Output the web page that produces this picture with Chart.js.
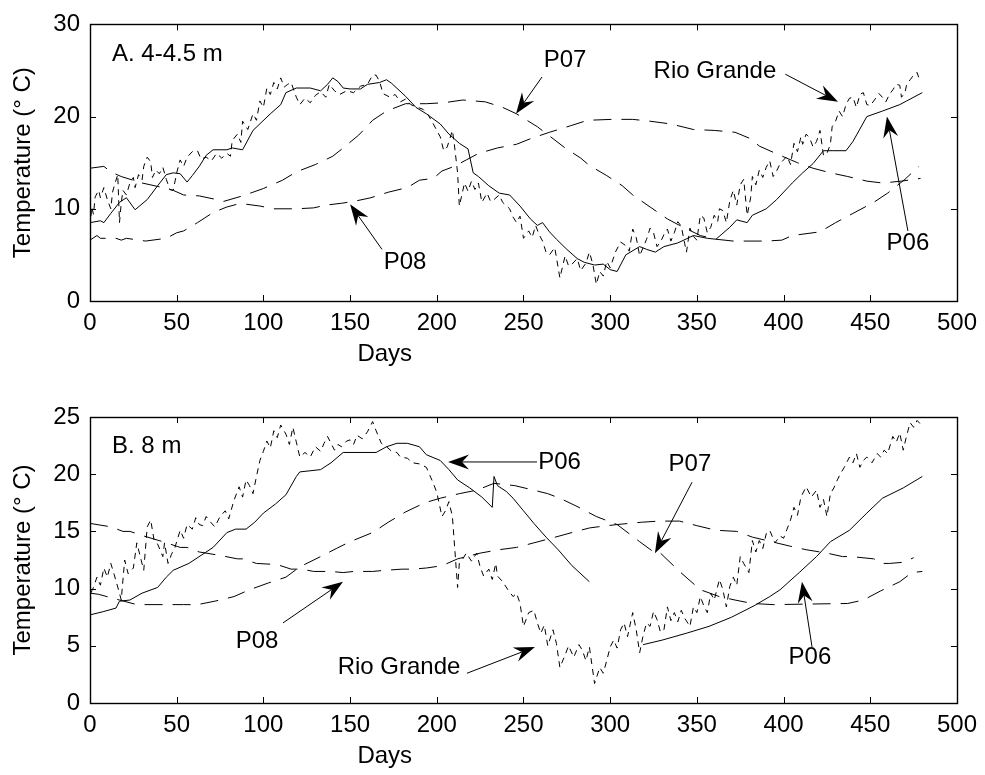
<!DOCTYPE html>
<html>
<head>
<meta charset="utf-8">
<script src="https://cdn.jsdelivr.net/npm/chart.js@4.4.1/dist/chart.umd.min.js"></script>
<style>
  html, body { margin: 0; padding: 0; background: #fff; }
  #wrap { position: relative; width: 985px; height: 775px; }
  canvas { position: absolute; left: 0; }
  #chartA { top: 0; }
  #chartB { top: 385px; }
</style>
</head>
<body>
<div id="wrap">
  <canvas id="chartA" width="985" height="385"></canvas>
  <canvas id="chartB" width="985" height="390"></canvas>
</div>
<script>
// ---------------------------------------------------
// Data, [day, temperature] pairs
// ---------------------------------------------------

// A. 4-4.5 m
var rioA = [[0,8.0],[1,10.2],[2,9.4],[3,11.3],[5,12.0],[6,11.2],[8,12.3],[10,11.0],[12,10.0],[13,11.8],
  [14,12.5],[16,13.7],[17,8.5],[18,10.6],[19,12.0],[21,11.5],[23,12.8],[25,13.4],[26,12.3],[28,13.7],
  [30,13.1],[31,14.6],[33,15.6],[35,15.1],[36,13.4],[38,14.2],[40,13.8],[42,14.5],[44,13.2],[46,12.1],
  [48,12.0],[50,13.9],[52,15.3],[54,14.6],[56,15.6],[59,16.2],[62,16.3],[64,15.4],[67,15.6],[70,15.2],
  [73,16.0],[76,15.5],[79,16.0],[81,15.7],[82,17.4],[85,18.1],[87,17.2],[88,19.5],[91,18.6],[94,20.3],
  [96,19.6],[98,21.7],[100,21.0],[102,23.1],[104,22.4],[106,23.7],[108,23.0],[110,24.2],[112,23.2],[114,23.5],
  [116,23.7],[119,22.1],[121,21.3],[124,22.0],[127,21.5],[130,22.3],[133,22.7],[136,22.1],[138,23.5],[141,22.8],
  [144,22.4],[148,22.8],[152,22.6],[156,23.3],[160,23.5],[163,24.5],[165,24.5],[167,23.8],[169,22.5],[173,22.1],
  [176,22.4],[179,21.6],[182,21.9],[185,21.3],[189,21.0],[192,20.8],[195,20.2],[198,19.2],[202,17.8],[204,16.3],
  [206,16.7],[209,18.5],[210,17.2],[212,13.9],[213,10.3],[216,12.8],[218,11.9],[220,13.0],[222,12.1],[224,12.8],
  [226,10.7],[229,11.7],[231,10.8],[233,11.0],[236,11.5],[238,10.7],[242,10.0],[244,9.1],[246,8.5],[248,9.2],
  [250,6.8],[253,7.6],[255,6.9],[257,8.2],[259,7.2],[261,6.5],[263,5.3],[265,5.0],[268,5.8],[271,2.5],
  [274,4.9],[276,3.8],[278,4.0],[281,4.6],[283,3.3],[286,4.1],[288,5.3],[290,4.0],[292,1.8],[294,3.2],
  [296,2.7],[298,4.3],[300,3.6],[303,5.3],[306,6.4],[309,6.0],[311,5.4],[313,7.8],[315,6.9],[317,4.9],
  [319,5.8],[321,6.7],[323,7.9],[325,7.4],[327,5.9],[329,6.4],[331,7.2],[333,7.8],[335,6.5],[337,7.4],
  [339,8.6],[341,8.1],[343,6.2],[344,5.3],[346,7.9],[348,7.0],[350,6.6],[352,9.3],[354,9.0],[356,7.4],
  [358,8.0],[360,9.3],[362,8.6],[363,10.0],[365,9.8],[367,8.5],[369,10.9],[371,12.0],[373,10.4],[375,12.6],
  [377,13.2],[379,9.3],[381,11.2],[382,13.5],[384,12.6],[386,14.2],[388,13.4],[390,14.5],[392,15.2],[394,13.5],
  [396,14.1],[398,14.9],[400,15.3],[402,15.7],[404,14.8],[406,17.1],[408,16.2],[410,17.8],[411,17.0],[413,18.1],
  [415,17.7],[417,16.7],[419,17.3],[421,18.5],[423,15.8],[425,16.0],[427,17.0],[428,18.9],[430,19.5],[432,20.6],
  [434,20.0],[436,21.3],[438,22.0],[440,22.1],[442,21.0],[444,22.4],[446,22.6],[448,21.3],[450,21.2],[452,21.7],
  [455,22.5],[457,22.1],[459,21.6],[461,22.4],[463,22.9],[465,23.5],[467,23.4],[468,22.1],[470,22.6],[471,23.5],
  [473,24.0],[475,24.5],[477,24.8],[478,24.2]];

var p06A = [[0,8.5],[6,8.7],[8,8.5],[12,9.5],[17,10.7],[21,11.2],[26,9.9],[33,11.0],[39,12.5],[44,13.7],
  [48,13.9],[52,13.8],[56,12.9],[59,13.6],[63,14.6],[67,15.8],[71,16.4],[79,16.4],[82,16.6],[88,16.4],
  [94,18.5],[104,20.3],[110,21.3],[113,22.6],[119,23.1],[127,23.1],[133,22.8],[137,23.5],[140,24.2],[143,23.8],
  [146,23.1],[150,23.0],[156,23.0],[160,23.5],[167,23.7],[171,24.0],[174,23.6],[182,22.2],[188,21.0],[194,20.3],
  [202,19.2],[207,18.1],[213,17.1],[218,16.5],[221,13.9],[224,13.5],[230,12.5],[236,11.7],[242,11.5],[248,10.3],
  [254,8.9],[258,8.2],[261,8.5],[265,7.5],[269,6.7],[275,5.6],[281,4.6],[285,4.2],[291,3.9],[296,4.0],
  [300,3.4],[304,3.2],[309,5.0],[317,5.9],[321,5.6],[326,5.3],[331,5.9],[339,6.3],[348,7.1],[356,6.8],
  [361,6.7],[369,8.0],[373,8.8],[379,8.5],[382,9.3],[390,10.0],[396,11.0],[405,12.8],[411,13.9],[417,14.9],
  [423,16.3],[428,16.3],[436,16.3],[440,17.3],[448,20.0],[457,20.6],[467,21.3],[471,21.7],[480,22.6]];

var p07A = [[0,14.4],[8,14.6],[12,14.0],[18,13.5],[30,12.8],[42,12.3],[48,12.0],[54,11.5],[63,11.4],[73,11.0],
  [77,10.8],[88,11.4],[100,12.2],[111,13.1],[119,14.0],[130,14.8],[140,15.7],[146,16.6],[155,18.0],[163,19.6],
  [171,20.6],[182,21.4],[194,21.4],[204,21.5],[215,21.8],[228,21.6],[238,21.0],[246,20.3],[258,18.9],[265,17.9],
  [274,16.6],[283,15.5],[288,14.7],[298,13.6],[307,12.5],[313,11.5],[323,10.2],[333,8.9],[340,8.2],[352,7.1],
  [361,6.7],[371,6.5],[390,6.5],[399,6.6],[405,7.1],[421,7.5],[430,8.5],[440,9.5],[452,10.7],[460,11.7],
  [470,13.2],[478,14.6]];

var p08A = [[0,6.6],[4,7.1],[6,6.8],[15,6.8],[18,6.6],[21,6.8],[32,6.5],[44,6.8],[50,7.4],[54,7.6],
  [62,8.5],[71,9.6],[79,10.2],[85,10.5],[90,10.5],[98,10.3],[106,10.0],[119,10.0],[129,10.1],[136,10.4],
  [145,10.6],[152,10.8],[162,11.2],[172,11.8],[183,12.3],[190,13.1],[198,13.3],[203,14.1],[210,14.6],[217,15.3],
  [224,16.0],[235,16.6],[246,17.0],[254,17.6],[265,18.3],[277,19.0],[287,19.6],[301,19.7],[313,19.7],[323,19.5],
  [335,19.2],[348,18.6],[360,18.5],[372,18.3],[381,17.6],[386,16.8],[398,15.8],[408,15.0],[417,14.4],[427,13.9],
  [437,13.5],[448,13.0],[457,12.8],[468,13.0],[479,13.3]];

// B. 8 m
var rioB = [[0,8.7],[1,9.8],[2,10.1],[4,11.0],[6,10.3],[8,11.8],[10,11.0],[12,12.2],[14,11.2],[17,9.6],
  [18,9.0],[20,12.5],[22,11.3],[25,11.8],[27,14.0],[29,12.8],[31,11.6],[33,15.4],[35,16.0],[37,14.2],
  [39,13.9],[42,12.8],[43,14.0],[45,12.2],[47,13.0],[49,13.6],[52,15.1],[54,14.4],[56,15.6],[59,15.2],
  [61,16.2],[63,15.6],[65,15.5],[67,16.3],[69,15.9],[72,15.4],[75,16.3],[78,16.8],[80,16.1],[83,17.7],
  [86,18.9],[88,18.0],[90,19.5],[92,19.0],[94,18.3],[96,19.8],[98,21.2],[100,22.0],[102,22.9],[104,22.3],
  [106,23.8],[108,23.2],[110,24.3],[113,23.5],[115,22.6],[117,24.1],[119,22.8],[121,21.5],[124,21.9],[127,21.5],
  [130,22.4],[133,22.0],[135,22.7],[137,23.3],[141,22.1],[143,22.6],[145,22.4],[148,22.9],[150,23.0],[152,22.6],
  [154,23.4],[157,23.1],[160,23.7],[163,24.6],[165,23.8],[168,22.7],[171,22.4],[174,22.0],[177,21.9],[179,21.5],
  [183,21.4],[186,21.0],[190,20.9],[194,20.6],[196,19.9],[198,19.2],[200,18.4],[203,16.3],[205,16.8],[207,17.6],
  [209,16.3],[212,10.1],[213,12.2],[215,12.6],[217,13.1],[220,12.4],[223,13.1],[225,11.9],[227,11.1],[230,11.7],
  [232,10.8],[234,12.2],[235,11.1],[238,10.6],[241,9.9],[244,9.3],[246,9.6],[248,8.7],[250,6.7],[253,7.9],
  [256,8.1],[258,7.0],[260,6.1],[262,6.8],[264,5.0],[267,6.4],[269,5.2],[271,3.1],[274,4.2],[276,5.0],
  [279,4.0],[282,5.1],[284,4.6],[286,3.7],[288,4.9],[291,1.7],[294,3.1],[296,2.6],[298,3.7],[300,4.9],
  [302,5.5],[304,4.8],[306,6.4],[308,7.0],[310,5.8],[313,7.9],[315,6.4],[317,4.4],[319,5.9],[321,7.0],
  [323,6.7],[325,8.0],[327,7.3],[329,6.2],[331,6.4],[333,8.4],[335,7.2],[337,7.9],[339,7.1],[341,8.1],
  [343,7.4],[346,6.7],[348,8.4],[350,7.9],[352,9.3],[354,8.5],[356,7.9],[358,9.6],[360,9.0],[363,10.8],
  [365,9.9],[367,8.4],[369,10.2],[371,11.0],[373,10.3],[375,12.8],[377,12.2],[380,11.4],[382,14.2],[384,13.2],
  [386,14.2],[388,13.5],[390,14.8],[392,15.1],[395,14.0],[398,14.6],[400,14.4],[402,15.2],[404,16.0],[406,17.1],
  [408,16.4],[410,18.0],[413,18.9],[416,18.0],[419,18.6],[421,17.1],[423,17.8],[425,16.3],[427,18.3],[429,18.8],
  [431,19.5],[433,20.1],[435,20.6],[438,21.5],[440,21.0],[442,21.8],[444,20.6],[446,21.2],[448,21.5],[451,21.0],
  [454,21.8],[456,21.5],[458,22.1],[460,21.8],[463,23.3],[465,22.8],[467,23.6],[469,22.1],[471,23.4],[473,24.5],
  [475,24.1],[477,24.7],[480,24.2]];

var p06B = [[0,7.7],[8,8.0],[15,8.3],[17,8.9],[23,9.0],[30,9.6],[39,10.1],[44,11.0],[48,11.6],[57,12.2],
  [64,12.9],[71,13.6],[79,14.9],[84,15.2],[90,15.2],[95,15.8],[100,16.6],[107,17.4],[113,18.2],[119,19.8],
  [121,20.2],[133,20.4],[139,21.0],[146,21.9],[165,21.9],[171,22.4],[177,22.7],[183,22.7],[190,22.4],[194,21.7],
  [202,21.2],[207,20.4],[212,19.5],[219,18.8],[226,18.0],[232,17.1],[233,19.8],[235,19.0],[240,18.5],[244,17.9],
  [250,16.8],[256,15.7],[263,14.5],[270,13.4],[278,12.0],[288,10.6],[300,null],[319,5.1],[330,5.5],[344,6.1],
  [357,6.7],[370,7.5],[383,8.5],[392,9.3],[398,9.9],[409,11.4],[419,12.8],[427,14.1],[438,15.1],[448,16.6],
  [457,17.9],[469,18.8],[480,19.8]];

var p07B = [[0,9.6],[5,9.5],[17,9.0],[27,8.6],[54,8.6],[62,8.6],[72,8.9],[83,9.3],[92,9.9],[103,10.5],
  [113,11.0],[121,11.9],[133,12.8],[142,13.5],[150,14.1],[163,14.9],[172,15.8],[182,16.7],[193,17.5],[202,17.9],
  [213,18.3],[223,18.6],[233,19.2],[245,19.0],[256,18.6],[264,18.3],[271,17.9],[282,17.1],[292,16.3],[304,15.6],
  [317,14.1],[326,13.1],[329,13.1],[340,11.5],[352,9.9],[363,9.3],[372,9.0],[382,8.7],[394,8.6],[437,8.7],
  [446,9.0],[456,9.8],[467,10.6],[474,11.4],[480,11.5]];

var p08B = [[0,15.7],[12,15.4],[19,15.0],[23,15.0],[31,14.6],[42,14.1],[52,13.6],[56,13.6],[63,13.2],[75,12.9],
  [85,12.6],[88,12.6],[96,12.2],[108,12.1],[116,11.7],[122,11.7],[129,11.5],[139,11.5],[146,11.4],[152,11.5],
  [163,11.5],[170,11.6],[180,11.7],[186,11.7],[194,11.8],[203,12.0],[212,12.6],[225,13.1],[236,13.4],[246,13.6],
  [256,14.0],[266,14.4],[278,14.9],[288,15.3],[293,15.4],[304,15.6],[318,15.8],[328,15.9],[340,15.9],[350,15.5],
  [361,15.1],[373,15.0],[382,14.5],[393,14.1],[404,13.7],[413,13.4],[425,13.1],[434,12.8],[439,12.8],[452,12.6],
  [457,12.2],[461,12.2],[469,12.3],[475,12.7]];

// labels: [text, day, temp, align]   arrows: [fromDay, fromTemp, toDay, toTemp]
var labelsA = [['A. 4-4.5 m', 12.7, 26.8, 'left'], ['P07', 274, 26.1], ['Rio Grande', 360.4, 24.9],
  ['P06', 471.7, 6.2], ['P08', 181.7, 4.2]];
var arrowsA = [[260.7, 24.3, 245.7, 20.3], [401, 24.6, 431.4, 21.6], [471.7, 7.6, 459.6, 20.0], [168.4, 5.6, 150, 10.5]];

var labelsB = [['B. 8 m', 12.7, 22.4, 'left'], ['P06', 258.5, 21.07, 'left'], ['P07', 346, 20.9],
  ['P08', 96.3, 5.4], ['Rio Grande', 178.2, 3.15], ['P06', 415.2, 4.0]];
var arrowsB = [[257.8, 21.07, 206.5, 21.07], [347.2, 19.3, 325.8, 13.1], [111.3, 7.0, 145.9, 10.6],
  [217.4, 2.6, 256.6, 4.9], [416.4, 4.9, 410.6, 10.6]];

// ---------------------------------------------------
// Drawing
// ---------------------------------------------------
var FONT = '"Liberation Sans", Arial, Helvetica, sans-serif';
var FONT_SIZE = 24;
var TICK = 6;

function drawArrow(ctx, x1, y1, x2, y2) {
  var ang = Math.atan2(y2 - y1, x2 - x1);
  var c = Math.cos(ang), s = Math.sin(ang);
  var L = 21, W = 7.5, N = 14;
  ctx.beginPath();
  ctx.moveTo(x1, y1);
  ctx.lineTo(x2 - N * c, y2 - N * s);
  ctx.stroke();
  ctx.beginPath();
  ctx.moveTo(x2, y2);
  ctx.lineTo(x2 - L * c + W * s, y2 - L * s - W * c);
  ctx.lineTo(x2 - N * c, y2 - N * s);
  ctx.lineTo(x2 - L * c - W * s, y2 - L * s + W * c);
  ctx.closePath();
  ctx.fill();
}

// box, inward ticks on four sides, notes and axis titles
var notesPlugin = {
  id: 'notes',
  afterDatasetsDraw: function(chart, args, opts) {
    var ctx = chart.ctx, a = chart.chartArea;
    var xs = chart.scales.x, ys = chart.scales.y;
    ctx.save();
    ctx.strokeStyle = '#000';
    ctx.fillStyle = '#000';
    ctx.lineWidth = 1;
    ctx.setLineDash([]);

    ctx.beginPath();
    xs.ticks.forEach(function(t) {
      var px = Math.round(xs.getPixelForValue(t.value)) + 0.5;
      ctx.moveTo(px, a.bottom); ctx.lineTo(px, a.bottom - TICK);
      ctx.moveTo(px, a.top); ctx.lineTo(px, a.top + TICK);
    });
    ys.ticks.forEach(function(t) {
      var py = Math.round(ys.getPixelForValue(t.value)) + 0.5;
      ctx.moveTo(a.left, py); ctx.lineTo(a.left + TICK, py);
      ctx.moveTo(a.right, py); ctx.lineTo(a.right - TICK, py);
    });
    ctx.stroke();
    ctx.lineWidth = 1.4;
    ctx.strokeRect(Math.round(a.left) + 0.5, Math.round(a.top) + 0.5,
      Math.round(a.right - a.left), Math.round(a.bottom - a.top));

    ctx.lineWidth = 1;
    opts.arrows.forEach(function(r) {
      drawArrow(ctx, xs.getPixelForValue(r[0]), ys.getPixelForValue(r[1]),
        xs.getPixelForValue(r[2]), ys.getPixelForValue(r[3]));
    });

    ctx.font = FONT_SIZE + 'px ' + FONT;
    ctx.textBaseline = 'middle';
    opts.labels.forEach(function(l) {
      ctx.textAlign = l[3] || 'center';
      ctx.fillText(l[0], xs.getPixelForValue(l[1]), ys.getPixelForValue(l[2]));
    });

    ctx.textAlign = 'center';
    ctx.fillText('Days', xs.getPixelForValue(170), a.bottom + 53);
    ctx.translate(23, (a.top + a.bottom) / 2);
    ctx.rotate(-Math.PI / 2);
    ctx.fillText('Temperature (\u00B0 C)', 0, 0);
    ctx.restore();
  }
};

function line(pairs, dash) {
  return {
    data: pairs.map(function(p) { return { x: p[0], y: p[1] }; }),
    borderColor: '#000',
    borderWidth: 1,
    borderDash: dash,
    pointRadius: 0,
    fill: false,
    tension: 0,
    spanGaps: false
  };
}

function buildChart(id, datasets, yMax, yStep, padTop, axisH, labels, arrows) {
  var tickFont = { family: FONT, size: FONT_SIZE };
  return new Chart(document.getElementById(id), {
    type: 'line',
    data: { datasets: datasets },
    options: {
      responsive: false,
      animation: false,
      devicePixelRatio: 1,
      layout: { padding: { top: padTop, right: 28, left: 0, bottom: 0 } },
      plugins: {
        legend: { display: false },
        tooltip: { enabled: false },
        notes: { labels: labels, arrows: arrows }
      },
      scales: {
        x: {
          type: 'linear', min: 0, max: 500,
          ticks: { stepSize: 50, color: '#000', font: tickFont, padding: 8, maxRotation: 0, autoSkip: false },
          grid: { display: false, drawTicks: false },
          border: { display: false },
          afterFit: function(s) { s.height = axisH; }
        },
        y: {
          type: 'linear', min: 0, max: yMax,
          ticks: { stepSize: yStep, color: '#000', font: tickFont, padding: 10 },
          grid: { display: false, drawTicks: false },
          border: { display: false },
          afterFit: function(s) { s.width = 90; }
        }
      }
    },
    plugins: [notesPlugin]
  });
}

var SHORT = [6, 5], LONG = [18, 10];

buildChart('chartA', [line(rioA, SHORT), line(p06A, []), line(p07A, LONG), line(p08A, LONG)],
  30, 10, 19, 84, labelsA, arrowsA);
buildChart('chartB', [line(rioB, SHORT), line(p06B, []), line(p07B, LONG), line(p08B, LONG)],
  25, 5, 32, 72, labelsB, arrowsB);
</script>
</body>
</html>
